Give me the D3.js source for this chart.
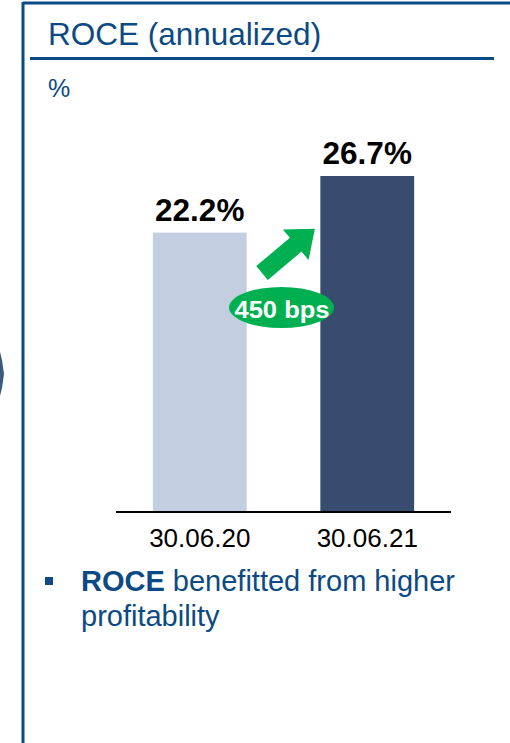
<!DOCTYPE html>
<html>
<head>
<meta charset="utf-8">
<script src="https://cdn.jsdelivr.net/npm/d3@7"></script>
<style>
  body { margin: 0; background: #fff; }
  text { font-family: "Liberation Sans", Arial, sans-serif; }
</style>
</head>
<body>
<script>
var w = 510;
var h = 743;

var categories = ["30.06.20", "30.06.21"];
var roce = [22.2, 26.7];
var barColors = ["#c3cee0", "#374c6e"];
var changeLabel = "450 bps";

var blue = "#0b4a84";
var svg = d3.select("body").append("svg").attr("width", w).attr("height", h);

// frame
svg.append("line").attr("x1", 23).attr("y1", 3).attr("x2", w).attr("y2", 3)
    .attr("stroke", blue).attr("stroke-width", 3);
svg.append("line").attr("x1", 23).attr("y1", 2).attr("x2", 23).attr("y2", h)
    .attr("stroke", blue).attr("stroke-width", 3);
svg.append("path").attr("d", "M0,352 L2,360 L4,374 L2,388 L0,396 Z").attr("fill", "#3b5a80");

svg.append("text").attr("x", 48).attr("y", 45).attr("font-size", 31.5)
    .attr("fill", blue).text("ROCE (annualized)");
svg.append("line").attr("x1", 30).attr("y1", 58.5).attr("x2", 494).attr("y2", 58.5)
    .attr("stroke", blue).attr("stroke-width", 3);
svg.append("text").attr("x", 48).attr("y", 97).attr("font-size", 25)
    .attr("fill", blue).text("%");

// chart
var x = d3.scaleBand().domain(categories).range([116, 451]).paddingInner(0.44).paddingOuter(0.22);
var y = d3.scaleLinear().domain([0, 26.7]).range([512, 176]);

svg.selectAll("rect.bar").data(roce).enter().append("rect")
    .attr("class", "bar")
    .attr("x", function(d, i) { return x(categories[i]); })
    .attr("y", function(d) { return y(d); })
    .attr("width", x.bandwidth())
    .attr("height", function(d) { return y(0) - y(d); })
    .attr("fill", function(d, i) { return barColors[i]; });

svg.selectAll("text.val").data(roce).enter().append("text")
    .attr("class", "val")
    .attr("x", function(d, i) { return x(categories[i]) + x.bandwidth() / 2; })
    .attr("y", function(d) { return y(d) - 12; })
    .attr("text-anchor", "middle").attr("font-size", 31.5).attr("font-weight", "bold")
    .attr("fill", "#000")
    .text(function(d) { return d.toFixed(1) + "%"; });

var xAxis = svg.append("g").attr("transform", "translate(0,512)")
    .call(d3.axisBottom(x).tickSize(0).tickPadding(0));
xAxis.select(".domain").attr("d", "M116,0H451").attr("stroke", "#000").attr("stroke-width", 2);
xAxis.selectAll("text").attr("font-size", 26).attr("fill", "#000").attr("dy", null)
    .attr("y", 35).attr("font-family", "Liberation Sans, Arial, sans-serif");

// change arrow
var g = svg.append("g").attr("transform", "translate(262,273) rotate(-40)");
g.append("path")
    .attr("d", "M0,-9 L44,-9 L44,-20 L69,0 L44,20 L44,9 L0,9 Z")
    .attr("fill", "#00b050");

svg.append("ellipse").attr("cx", 281.5).attr("cy", 307.5).attr("rx", 52.5).attr("ry", 20.5)
    .attr("fill", "#00b050");
svg.append("text").attr("x", 282).attr("y", 318).attr("text-anchor", "middle")
    .attr("font-size", 23).attr("font-weight", "bold").attr("fill", "#fff")
    .attr("textLength", 95).attr("lengthAdjust", "spacingAndGlyphs")
    .text(changeLabel);

// bullet
svg.append("rect").attr("x", 45).attr("y", 577).attr("width", 8).attr("height", 8).attr("fill", blue);
var t = svg.append("text").attr("x", 81).attr("y", 591).attr("font-size", 29).attr("fill", blue);
t.append("tspan").attr("font-weight", "bold").text("ROCE");
t.append("tspan").text(" benefitted from higher");
svg.append("text").attr("x", 81).attr("y", 626).attr("font-size", 29).attr("fill", blue)
    .text("profitability");
</script>
</body>
</html>
